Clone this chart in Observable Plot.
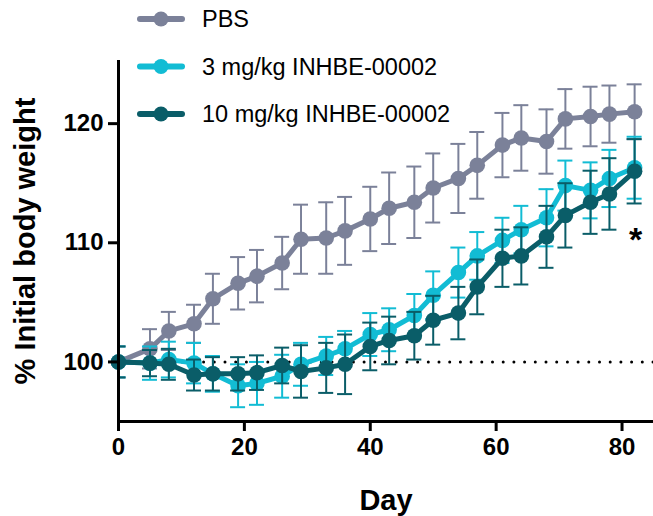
<!DOCTYPE html>
<html>
<head>
<meta charset="utf-8">
<script src="https://cdn.jsdelivr.net/npm/d3@7"></script>
<script src="https://cdn.jsdelivr.net/npm/@observablehq/plot@0.6"></script>
<style>
  html, body { margin: 0; padding: 0; background: #fff; }
  #wrap { position: relative; width: 653px; height: 516px; font-family: "Liberation Sans", Arial, sans-serif; }
  #legend { position: absolute; left: 0; top: 0; }
  #chart g[aria-label="x-axis label"] text, #chart g[aria-label="y-axis label"] text { font-size: 29px; font-weight: bold; }
</style>
</head>
<body>
<div id="wrap"><div id="chart"></div><svg id="legend" width="653" height="140"></svg></div>
<script>
const days = [0,5,8,12,15,19,22,26,29,33,36,40,43,47,50,54,57,61,64,68,71,75,78,82];
const seriesNames = ["PBS", "3 mg/kg INHBE-00002", "10 mg/kg INHBE-00002"];
const seriesColors = ["#7b8199", "#12bcd4", "#0a5d68"];
const pbsMean = [100,101.1,102.6,103.2,105.3,106.6,107.2,108.3,110.3,110.4,111.0,112.0,112.9,113.4,114.6,115.4,116.5,118.2,118.8,118.5,120.4,120.6,120.8,121.0];
const pbsSem  = [1.3,1.65,1.6,1.6,2.1,2.2,2.2,2.2,2.9,3.0,2.85,2.7,3.0,3.0,2.9,2.9,2.8,2.7,2.75,2.7,2.5,2.5,2.4,2.3];
const lowMean = [100,99.9,100.2,99.9,99.0,98.0,98.2,98.8,99.8,100.5,101.1,102.3,102.7,103.9,105.6,107.5,108.9,110.2,111.1,112.1,114.8,114.4,115.4,116.3];
const lowSem  = [1.3,1.4,1.5,1.7,1.5,1.8,1.8,1.8,1.8,1.6,1.5,1.8,1.8,1.8,2.0,2.1,2.0,1.9,2.0,2.4,2.1,2.35,2.4,2.6];
const highMean = [100,99.9,99.8,98.9,99.0,99.0,99.1,99.7,99.2,99.5,99.8,101.3,101.8,102.2,103.5,104.1,106.3,108.7,108.9,110.5,112.3,113.4,114.1,116.0];
const highSem  = [1.3,1.1,1.3,1.3,1.4,1.4,1.45,1.5,2.2,2.1,2.5,2.0,2.0,2.0,2.05,2.2,2.3,2.4,2.4,2.6,2.7,2.65,3.0,2.7];
const xTicks = [0,20,40,60,80];
const yTicks = [100,110,120];
const baseline = [100];
const annotations = [{day: 82, value: 110.6, text: "*"}];

const means = [pbsMean, lowMean, highMean];
const sems = [pbsSem, lowSem, highSem];
const seriesRows = seriesNames.map((name, s) => days.map((d, i) => ({
  series: name, day: d, mean: means[s][i], sem: sems[s][i],
  lo: means[s][i] - sems[s][i], hi: means[s][i] + sems[s][i]
})));

const seriesMarks = seriesRows.flatMap((rows, s) => {
  const c = seriesColors[s];
  return [
    Plot.ruleX(rows, {x: "day", y1: "lo", y2: "hi", stroke: c, strokeWidth: 2}),
    Plot.ruleY(rows, {y: "hi", x1: "day", x2: "day", insetLeft: -7.5, insetRight: -7.5, stroke: c, strokeWidth: 2, clip: true}),
    Plot.ruleY(rows, {y: "lo", x1: "day", x2: "day", insetLeft: -7.5, insetRight: -7.5, stroke: c, strokeWidth: 2, clip: true}),
    Plot.line(rows, {x: "day", y: "mean", stroke: c, strokeWidth: 5, strokeLinejoin: "round"}),
    Plot.dot(rows, {x: "day", y: "mean", r: 7.8, fill: c, stroke: "none"})
  ];
});

const chart = Plot.plot({
  width: 653, height: 516,
  marginLeft: 118, marginRight: 0, marginTop: 60, marginBottom: 95,
  style: {fontFamily: "'Liberation Sans', Arial, sans-serif", color: "#000", background: "#fff", overflow: "visible"},
  x: {domain: [0, 85]},
  y: {domain: [95, 125.3]},
  marks: [
    Plot.ruleY(baseline, {stroke: "#000", strokeWidth: 3, strokeDasharray: "0 10.7", strokeLinecap: "round"}),
    ...seriesMarks,
    Plot.ruleX([0], {stroke: "#000", strokeWidth: 3}),
    Plot.ruleY([95], {stroke: "#000", strokeWidth: 3}),
    Plot.axisX({ticks: xTicks, tickSize: 10, strokeWidth: 3, tickPadding: 6, fontSize: 24, fontWeight: "bold",
      label: "Day", labelAnchor: "center", labelArrow: "none", labelOffset: 88}),
    Plot.axisY({ticks: yTicks, tickSize: 10, strokeWidth: 3, tickPadding: 5, fontSize: 24, fontWeight: "bold",
      label: "% Initial body weight", labelAnchor: "center", labelArrow: "none", labelOffset: 104}),
    Plot.text(annotations, {x: "day", y: "value", text: "text", fontSize: 34, fontWeight: "bold", dx: 1, dy: 4})
  ]
});
document.getElementById("chart").appendChild(chart);

// legend
const leg = d3.select("#legend");
seriesNames.forEach((name, i) => {
  const cy = 19 + i * 47.5;
  const g = leg.append("g");
  g.append("line").attr("x1", 140).attr("x2", 182).attr("y1", cy).attr("y2", cy)
    .attr("stroke", seriesColors[i]).attr("stroke-width", 6).attr("stroke-linecap", "round");
  g.append("circle").attr("cx", 161).attr("cy", cy).attr("r", 7.5).attr("fill", seriesColors[i]);
  g.append("text").attr("x", 202).attr("y", cy).attr("dy", "0.36em")
    .attr("font-family", "'Liberation Sans', Arial, sans-serif").attr("font-size", 23.5).attr("fill", "#000").text(name);
});
</script>
</body>
</html>
